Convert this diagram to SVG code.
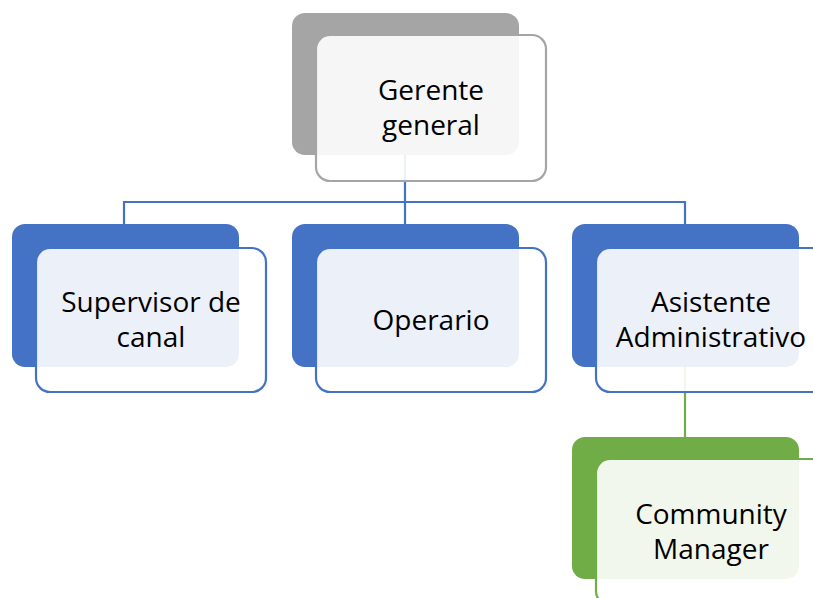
<svg xmlns="http://www.w3.org/2000/svg" width="813" height="598" viewBox="0 0 813 598">
<style>
.back{stroke:none}
.front{fill:#ffffff;fill-opacity:0.9;stroke-width:2.2}
.lbl{font-family:"Open Sans","Noto Sans","Liberation Sans",sans-serif;font-size:28px;fill:#000;text-anchor:middle}
.gray .back{fill:#a5a5a5}.gray .front{stroke:#a5a5a5}
.blue .back{fill:#4472c4}.blue .front{stroke:#4472c4}
.green .back{fill:#70ad47}.green .front{stroke:#70ad47}
.conn{fill:none;stroke-width:2.2}
</style>
<rect width="813" height="598" fill="#ffffff"/>
<g id="connectors">
<path class="conn" stroke="#4472c4" d="M405,155 V202 M124,224 V202 H685 V224 M405,202 V224"/>
<path class="conn" stroke="#70ad47" d="M685,367 V437"/>
</g>
<g id="gerente" class="gray">
<rect class="back" x="292" y="13" width="227" height="142" rx="13"/>
<rect class="front" x="316" y="35" width="230" height="146" rx="14"/>
<text class="lbl" x="431" y="100">Gerente</text>
<text class="lbl" x="431" y="135">general</text>
</g>
<g id="supervisor" class="blue">
<rect class="back" x="12" y="224" width="227" height="143" rx="13"/>
<rect class="front" x="36" y="248" width="230" height="144" rx="14"/>
<text class="lbl" x="151" y="312">Supervisor de</text>
<text class="lbl" x="151" y="347">canal</text>
</g>
<g id="operario" class="blue">
<rect class="back" x="292" y="224" width="227" height="143" rx="13"/>
<rect class="front" x="316" y="248" width="230" height="144" rx="14"/>
<text class="lbl" x="431" y="330">Operario</text>
</g>
<g id="asistente" class="blue">
<rect class="back" x="572" y="224" width="227" height="143" rx="13"/>
<rect class="front" x="596" y="248" width="230" height="144" rx="14"/>
<text class="lbl" x="711" y="312">Asistente</text>
<text class="lbl" x="711" y="347">Administrativo</text>
</g>
<g id="community" class="green">
<rect class="back" x="572" y="437" width="227" height="142" rx="13"/>
<rect class="front" x="596" y="459" width="230" height="146" rx="14"/>
<text class="lbl" x="711" y="524">Community</text>
<text class="lbl" x="711" y="559">Manager</text>
</g>
</svg>
